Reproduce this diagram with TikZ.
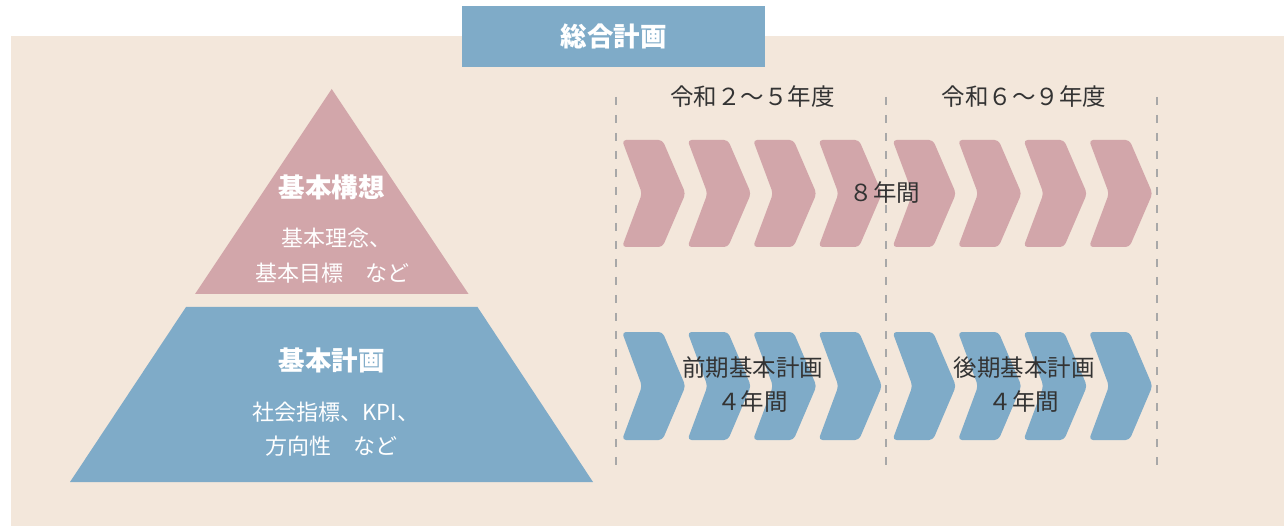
\documentclass[tikz,border=0pt]{standalone}
\usepackage{fontspec}
\setmainfont{Noto Sans CJK JP}
\definecolor{bg}{HTML}{F3E7DB}
\definecolor{pk}{HTML}{D2A6AA}
\definecolor{bl}{HTML}{7FABC8}
\definecolor{tx}{HTML}{333333}
\definecolor{dl}{HTML}{A8A8A8}
\begin{document}
\begin{tikzpicture}[x=1pt,y=-1pt,
  lbl/.style={text=tx, font=\fontsize{23.5}{23.5}\selectfont, inner sep=0pt},
  ttl/.style={text=white, font=\fontsize{26.5}{26.5}\selectfont\bfseries, inner sep=0pt},
  sub/.style={text=white, font=\fontsize{22}{22}\selectfont, inner sep=0pt},
  guide/.style={draw=dl, line width=1.8pt, dash pattern=on 8pt off 10pt},
  chev/.style={rounded corners=4pt}]
\useasboundingbox (0,0) rectangle (1284,526);
\fill[white] (0,0) rectangle (1284,526);
\fill[bg] (11,36) rectangle (1284,526);
% title
\node[fill=bl, minimum width=303pt, minimum height=61pt, ttl] (title) at (613.5,36.5) {総合計画};
% pyramid
\fill[pk] (331.7,89) -- (468.5,294) -- (195,294) -- cycle;
\fill[bl] (186,307) -- (477.5,307) -- (593,482) -- (70,482) -- cycle;
\node[ttl] (kousou) at (331.7,187.5) {基本構想};
\node[sub, anchor=west] (rinen) at (281,238.5) {基本理念、};
\node[sub] (mokuhyo) at (332.5,273.5) {基本目標　など};
\node[ttl] (keikaku) at (331.6,360.5) {基本計画};
\node[sub, anchor=west] (shihyo) at (252.5,412.5) {社会指標、KPI、};
\node[sub] (houkou) at (331.5,446.5) {方向性　など};
% guides
\foreach \x in {616,886,1157} \draw[guide] (\x,97) -- (\x,473);
% chevrons
\foreach \L in {622,687.5,753,818.5,892.5,958,1023.5,1089} {
  \fill[pk, chev] (\L,140) -- ++(40.5,0) -- ++(23,53.5) -- ++(-23,53.5) -- ++(-40.5,0) -- ++(20,-53.5) -- cycle;
  \fill[bl, chev] (\L,332) -- ++(40.5,0) -- ++(23,54) -- ++(-23,54) -- ++(-40.5,0) -- ++(20,-54) -- cycle;
}
% labels
\node[lbl] (y1) at (752.5,96.5) {令和２～５年度};
\node[lbl] (y2) at (1024,96.5) {令和６～９年度};
\node[lbl] (eight) at (885,193) {８年間};
\node[lbl] (zenki) at (752.5,368) {前期基本計画};
\node[lbl] (zenki4) at (752.5,401.5) {４年間};
\node[lbl] (kouki) at (1024,368) {後期基本計画};
\node[lbl] (kouki4) at (1024,401.5) {４年間};
\end{tikzpicture}
\end{document}
